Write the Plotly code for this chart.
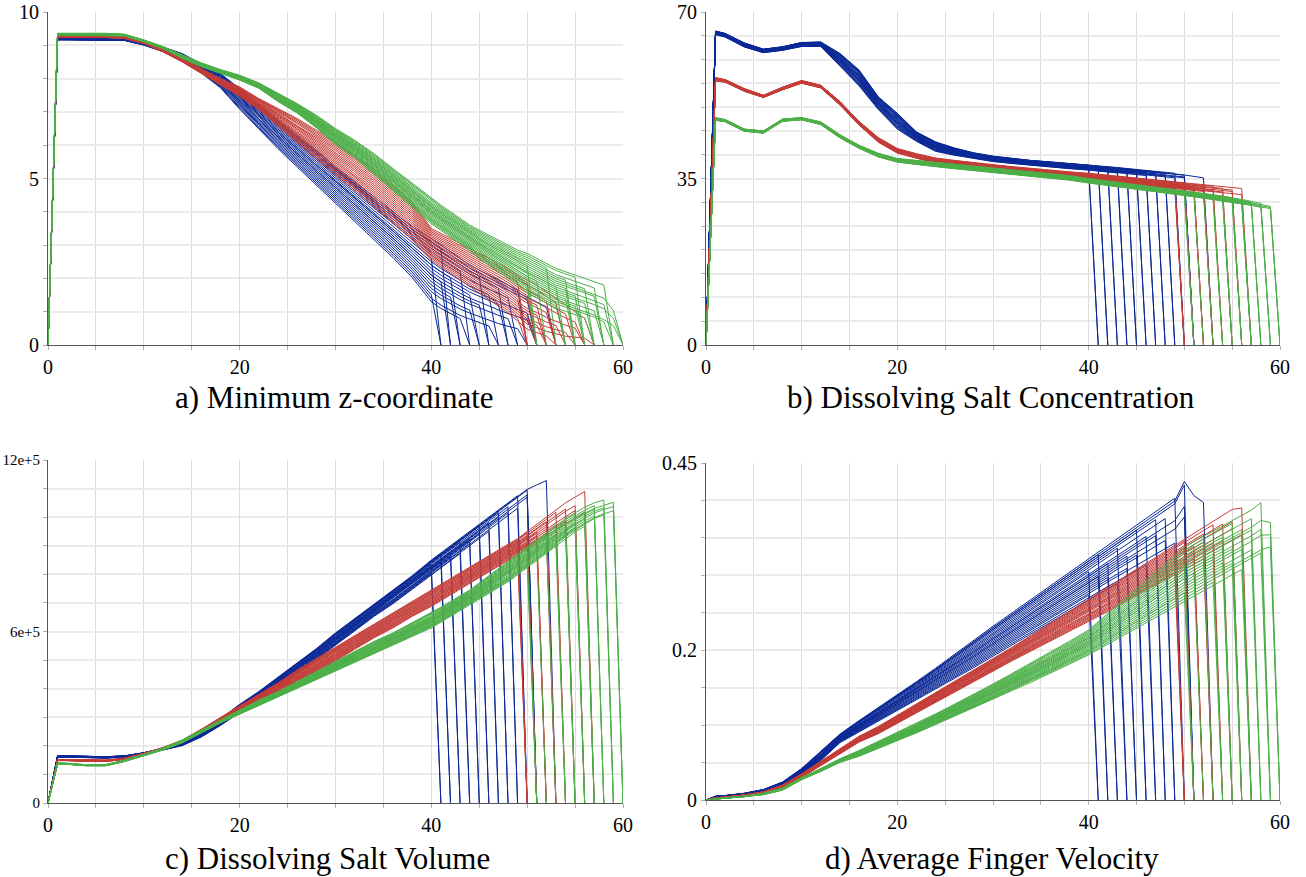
import plotly.graph_objects as go

# shared time grid (simulation time)
T_GRID = [0, 1, 2, 4, 6, 8, 10, 12, 14, 16, 18, 20, 22, 24, 26, 28, 30, 32, 34, 36, 38, 40,
          41, 42, 43, 44, 45, 46, 47, 48, 49, 50, 51, 52, 53, 54, 55, 56, 57, 58, 59]

# run end times (time at which value returns to 0) and position of each run inside its band
ends_blue = [41, 41, 42, 42, 43, 43, 44, 44, 45, 45, 46, 46, 47, 47, 48, 48, 49, 49, 50, 50, 51, 51, 51, 53]
frac_blue = [0.15, 0.70, 0.45, 0.95, 0.30, 0.60, 0.05, 0.80, 0.50, 0.25, 0.90, 0.40, 0.65, 0.10, 0.55, 0.85,
             0.35, 0.75, 1.00, 0.20, 0.60, 0.45, 0.90, 0.95]
ends_red = [50, 50, 50, 51, 51, 51, 52, 52, 52, 53, 53, 53, 54, 54, 55, 55, 56, 56, 57, 57]
frac_red = [0.10, 0.50, 0.85, 0.30, 0.70, 0.95, 0.20, 0.60, 0.40, 0.80, 0.05, 0.55, 0.35, 0.90, 0.25, 0.75,
            0.45, 0.65, 1.00, 0.15]
ends_green = [51, 51, 52, 53, 54, 54, 55, 55, 55, 56, 56, 56, 57, 57, 57, 58, 58, 58, 59, 59, 59, 60, 60, 60]
frac_green = [0.20, 0.70, 0.45, 0.90, 0.10, 0.55, 0.35, 0.80, 0.60, 0.25, 0.95, 0.50, 0.05, 0.75, 0.40, 0.85,
              0.30, 0.65, 1.00, 0.15, 0.55, 0.45, 0.20, 0.70]

# ---- a) Minimum z-coordinate: lower / upper band edges per group
minz_blue_lo = [0, 9.16, 9.16, 9.16, 9.16, 9.14, 9.0, 8.8, 8.5, 8.15, 7.7, 7.05, 6.45, 5.85, 5.3, 4.75, 4.2, 3.65, 3.1, 2.55, 1.95, 1.2,
                1.0, 0.85, 0.7, 0.6, 0.5, 0.4, 0.32, 0.25, 0.2, 0.15, 0.1, 0.1]
minz_blue_hi = [0, 9.21, 9.21, 9.21, 9.21, 9.2, 9.1, 8.95, 8.75, 8.45, 8.15, 7.7, 7.2, 6.75, 6.3, 5.85, 5.35, 4.9, 4.45, 4.0, 3.55, 3.2,
                3.0, 2.8, 2.6, 2.4, 2.25, 2.1, 1.95, 1.8, 1.65, 1.5, 1.35, 1.2]
minz_red_lo = [0, 9.23, 9.23, 9.23, 9.23, 9.2, 9.05, 8.8, 8.5, 8.15, 7.8, 7.45, 7.05, 6.55, 6.05, 5.55, 5.05, 4.6, 4.1, 3.6, 3.1, 2.5,
               2.3, 2.1, 1.9, 1.7, 1.5, 1.3, 1.1, 0.9, 0.65, 0.4, 0.3, 0.2, 0.15, 0.1, 0.1, 0.1]
minz_red_hi = [0, 9.28, 9.28, 9.28, 9.28, 9.25, 9.1, 8.87, 8.6, 8.3, 8.0, 7.75, 7.4, 7.1, 6.8, 6.45, 6.1, 5.7, 5.3, 4.8, 4.3, 3.5,
               3.35, 3.2, 3.05, 2.9, 2.75, 2.6, 2.45, 2.3, 2.1, 1.95, 1.8, 1.6, 1.4, 1.2, 1.0, 0.8]
minz_green_lo = [0, 9.3, 9.3, 9.3, 9.3, 9.28, 9.1, 8.9, 8.6, 8.35, 8.15, 7.95, 7.7, 7.3, 6.95, 6.5, 6.0, 5.6, 5.1, 4.6, 4.1, 3.6,
                 3.4, 3.2, 3.0, 2.8, 2.55, 2.35, 2.15, 1.95, 1.75, 1.5, 1.35, 1.2, 1.05, 0.95, 0.85, 0.75, 0.65, 0.5, 0.4]
minz_green_hi = [0, 9.36, 9.36, 9.36, 9.36, 9.33, 9.16, 8.96, 8.72, 8.47, 8.27, 8.1, 7.87, 7.55, 7.25, 6.9, 6.5, 6.15, 5.75, 5.3, 4.85, 4.4,
                 4.2, 4.0, 3.8, 3.6, 3.45, 3.3, 3.15, 3.0, 2.85, 2.75, 2.6, 2.45, 2.3, 2.2, 2.1, 2.0, 1.9, 1.8, 1.3]

# ---- b) Dissolving Salt Concentration
conc_blue_lo = [0, 65.2, 64.7, 62.6, 61.4, 61.9, 62.7, 62.7, 58.5, 54.3, 49.4, 45.2, 42.7, 40.6, 39.8, 39.1, 38.5, 38.1, 37.7, 37.3, 37.0, 36.7,
                36.5, 36.3, 36.1, 35.9, 35.7, 35.5, 35.3, 35.1, 34.9, 34.6, 34.3, 34.0]
conc_blue_hi = [0, 66.0, 65.5, 63.5, 62.2, 62.7, 63.6, 63.7, 61.3, 57.8, 52.2, 48.7, 44.8, 42.7, 41.4, 40.4, 39.7, 39.2, 38.8, 38.5, 38.2, 37.9,
                37.7, 37.5, 37.3, 37.1, 36.9, 36.7, 36.5, 36.3, 36.1, 35.8, 35.5, 35.2]
conc_red_lo = [0, 55.5, 55.2, 53.3, 52.0, 53.6, 55.0, 54.0, 50.4, 46.2, 42.6, 40.3, 39.2, 38.2, 37.6, 37.1, 36.6, 36.2, 35.8, 35.4, 35.0, 34.6,
               34.4, 34.2, 34.0, 33.8, 33.6, 33.4, 33.2, 33.0, 32.8, 32.6, 32.4, 32.2, 32.0, 31.8, 31.6, 31.4]
conc_red_hi = [0, 56.2, 55.8, 53.9, 52.5, 54.2, 55.6, 54.6, 51.2, 47.0, 43.6, 41.3, 40.2, 39.3, 38.8, 38.3, 37.9, 37.5, 37.1, 36.7, 36.4, 36.1,
               35.9, 35.7, 35.5, 35.3, 35.1, 34.9, 34.7, 34.5, 34.3, 34.1, 33.9, 33.7, 33.5, 33.3, 33.1, 32.9]
conc_green_lo = [0, 47.2, 46.9, 44.9, 44.5, 47.0, 47.3, 46.3, 43.5, 41.3, 39.5, 38.4, 37.9, 37.4, 37.0, 36.6, 36.2, 35.8, 35.4, 35.0, 34.6, 34.0,
                 33.75, 33.5, 33.25, 33.0, 32.75, 32.5, 32.25, 32.0, 31.7, 31.4, 31.1, 30.8, 30.5, 30.2, 29.9, 29.6, 29.2, 28.8, 28.5]
conc_green_hi = [0, 47.8, 47.4, 45.4, 45.0, 47.5, 47.8, 46.9, 44.2, 42.0, 40.3, 39.2, 38.8, 38.4, 38.0, 37.6, 37.2, 36.8, 36.4, 36.0, 35.6, 35.0,
                 34.75, 34.5, 34.25, 34.0, 33.75, 33.5, 33.25, 33.0, 32.75, 32.5, 32.2, 31.9, 31.6, 31.3, 31.0, 30.6, 30.2, 29.8, 29.4]

# ---- c) Dissolving Salt Volume (in units of 1e5)
vol_blue_lo = [0, 1.60, 1.60, 1.58, 1.57, 1.60, 1.70, 1.85, 2.0, 2.3, 2.7, 3.15, 3.55, 4.05, 4.5, 5.0, 5.5, 6.0, 6.5, 6.95, 7.45, 7.95,
               8.2, 8.45, 8.7, 8.95, 9.2, 9.45, 9.7, 9.95, 10.2, 10.45, 10.7, 10.9]
vol_blue_hi = [0, 1.65, 1.65, 1.63, 1.62, 1.65, 1.76, 1.92, 2.15, 2.5, 2.95, 3.45, 3.9, 4.4, 4.9, 5.4, 5.95, 6.45, 6.95, 7.45, 7.95, 8.5,
               8.75, 9.0, 9.25, 9.5, 9.75, 10.0, 10.25, 10.5, 10.75, 11.0, 11.15, 11.3]
vol_red_lo = [0, 1.48, 1.48, 1.45, 1.45, 1.52, 1.68, 1.88, 2.1, 2.45, 2.85, 3.2, 3.55, 3.9, 4.25, 4.6, 4.95, 5.35, 5.75, 6.1, 6.5, 6.85,
              7.05, 7.25, 7.45, 7.65, 7.85, 8.05, 8.25, 8.45, 8.65, 8.85, 9.05, 9.25, 9.45, 9.65, 9.85, 10.05]
vol_red_hi = [0, 1.52, 1.52, 1.5, 1.5, 1.57, 1.74, 1.94, 2.2, 2.58, 3.0, 3.4, 3.8, 4.2, 4.65, 5.05, 5.45, 5.85, 6.25, 6.65, 7.05, 7.45,
              7.65, 7.85, 8.05, 8.25, 8.45, 8.65, 8.85, 9.05, 9.25, 9.5, 9.75, 10.0, 10.25, 10.5, 10.7, 10.9]
vol_green_lo = [0, 1.36, 1.35, 1.30, 1.30, 1.45, 1.65, 1.85, 2.1, 2.45, 2.8, 3.1, 3.4, 3.7, 4.0, 4.3, 4.6, 4.9, 5.2, 5.5, 5.8, 6.1,
                6.3, 6.5, 6.7, 6.9, 7.1, 7.3, 7.5, 7.7, 7.95, 8.2, 8.45, 8.7, 8.95, 9.2, 9.45, 9.65, 9.85, 10.0, 10.1]
vol_green_hi = [0, 1.40, 1.39, 1.34, 1.34, 1.50, 1.70, 1.92, 2.2, 2.55, 2.9, 3.25, 3.6, 3.9, 4.25, 4.6, 4.95, 5.3, 5.65, 5.95, 6.3, 6.65,
                6.85, 7.05, 7.25, 7.45, 7.7, 7.95, 8.2, 8.45, 8.7, 8.95, 9.2, 9.45, 9.7, 9.95, 10.15, 10.35, 10.5, 10.6, 10.7]

# ---- d) Average Finger Velocity
vel_blue_lo = [0, 0.003, 0.004, 0.006, 0.010, 0.018, 0.034, 0.052, 0.076, 0.090, 0.104, 0.118, 0.132, 0.146, 0.160, 0.175, 0.190, 0.205, 0.220, 0.235, 0.250, 0.265,
               0.272, 0.279, 0.286, 0.293, 0.300, 0.307, 0.314, 0.321, 0.328, 0.335, 0.340, 0.345]
vel_blue_hi = [0, 0.005, 0.006, 0.009, 0.014, 0.024, 0.042, 0.065, 0.088, 0.106, 0.123, 0.140, 0.158, 0.176, 0.195, 0.213, 0.232, 0.250, 0.268, 0.286, 0.304, 0.322,
               0.331, 0.340, 0.349, 0.358, 0.367, 0.376, 0.385, 0.394, 0.403, 0.430, 0.410, 0.400]
vel_red_lo = [0, 0.002, 0.003, 0.005, 0.009, 0.016, 0.030, 0.046, 0.062, 0.077, 0.088, 0.102, 0.116, 0.130, 0.144, 0.158, 0.172, 0.185, 0.198, 0.211, 0.224, 0.236,
              0.243, 0.250, 0.257, 0.264, 0.271, 0.278, 0.285, 0.292, 0.299, 0.306, 0.313, 0.320, 0.327, 0.334, 0.341, 0.348]
vel_red_hi = [0, 0.003, 0.004, 0.007, 0.011, 0.020, 0.035, 0.052, 0.069, 0.085, 0.098, 0.113, 0.128, 0.143, 0.158, 0.173, 0.188, 0.204, 0.220, 0.236, 0.252, 0.268,
              0.276, 0.284, 0.292, 0.300, 0.308, 0.316, 0.324, 0.332, 0.340, 0.348, 0.356, 0.364, 0.372, 0.380, 0.388, 0.390]
vel_green_lo = [0, 0.001, 0.002, 0.004, 0.007, 0.013, 0.027, 0.038, 0.050, 0.058, 0.068, 0.079, 0.089, 0.100, 0.111, 0.122, 0.133, 0.145, 0.156, 0.168, 0.180, 0.192,
                0.199, 0.206, 0.213, 0.220, 0.227, 0.234, 0.241, 0.248, 0.255, 0.262, 0.269, 0.276, 0.283, 0.290, 0.297, 0.304, 0.311, 0.318, 0.325]
vel_green_hi = [0, 0.002, 0.003, 0.005, 0.009, 0.016, 0.030, 0.042, 0.055, 0.066, 0.078, 0.090, 0.102, 0.115, 0.128, 0.141, 0.155, 0.169, 0.183, 0.197, 0.212, 0.227,
                0.238, 0.249, 0.260, 0.271, 0.282, 0.293, 0.304, 0.315, 0.326, 0.337, 0.345, 0.352, 0.359, 0.366, 0.373, 0.380, 0.387, 0.397, 0.390]

COLORS = {"blue": "#0a2896", "red": "#c43c37", "green": "#4caf48"}
GROUPS = [
    ("blue", ends_blue, frac_blue),
    ("red", ends_red, frac_red),
    ("green", ends_green, frac_green),
]
PANELS = [
    ("x", "y", {"blue": (minz_blue_lo, minz_blue_hi), "red": (minz_red_lo, minz_red_hi), "green": (minz_green_lo, minz_green_hi)}, 1.0),
    ("x2", "y2", {"blue": (conc_blue_lo, conc_blue_hi), "red": (conc_red_lo, conc_red_hi), "green": (conc_green_lo, conc_green_hi)}, 1.0),
    ("x3", "y3", {"blue": (vol_blue_lo, vol_blue_hi), "red": (vol_red_lo, vol_red_hi), "green": (vol_green_lo, vol_green_hi)}, 1e5),
    ("x4", "y4", {"blue": (vel_blue_lo, vel_blue_hi), "red": (vel_red_lo, vel_red_hi), "green": (vel_green_lo, vel_green_hi)}, 1.0),
]

fig = go.Figure()
for xa, ya, bands, scale in PANELS:
    for name, ends, fracs in GROUPS:
        lo, hi = bands[name]
        xs, ys = [], []
        for end, f in zip(ends, fracs):
            for i, t in enumerate(T_GRID[:len(lo)]):
                if t <= end - 1:
                    xs.append(t)
                    ys.append((lo[i] + f * (hi[i] - lo[i])) * scale)
            xs.append(end)
            ys.append(0)
            xs.append(None)
            ys.append(None)
        fig.add_trace(go.Scatter(x=xs, y=ys, mode="lines", xaxis=xa, yaxis=ya,
                                 line=dict(color=COLORS[name], width=1), showlegend=False,
                                 hoverinfo="skip"))

W, H = 1306, 877
FONT = "Liberation Serif, Tinos, Times New Roman, DejaVu Serif, serif"


def px_x(px):
    return px / W


def px_y(py):
    return 1 - py / H


def xaxis(left, right, anchor):
    return dict(domain=[px_x(left), px_x(right)], anchor=anchor, range=[0, 60], automargin=False,
                tickmode="array", tickvals=[0, 20, 40, 60], ticktext=["0", "20", "40", "60"],
                showgrid=True, gridcolor="#dcdcdc", gridwidth=1,
                minor=dict(tickmode="linear", tick0=0, dtick=5, showgrid=True, gridcolor="#dcdcdc",
                           gridwidth=1, ticks="outside", ticklen=4, tickcolor="#b0b0b0"),
                ticks="outside", ticklen=4, tickcolor="#b0b0b0",
                showline=True, linecolor="#555555", linewidth=1, zeroline=False,
                tickfont=dict(family=FONT, size=20, color="black"), fixedrange=True)


def yaxis(top, bottom, anchor, rng, tickvals, ticktext, dtick, size=20):
    return dict(domain=[px_y(bottom), px_y(top)], anchor=anchor, range=rng, automargin=False,
                tickmode="array", tickvals=tickvals, ticktext=ticktext,
                showgrid=True, gridcolor="#ebebeb", gridwidth=2,
                minor=dict(tickmode="linear", tick0=0, dtick=dtick, showgrid=True, gridcolor="#ebebeb",
                           gridwidth=2, ticks="outside", ticklen=4, tickcolor="#b0b0b0"),
                ticks="outside", ticklen=4, tickcolor="#b0b0b0",
                showline=True, linecolor="#555555", linewidth=1, zeroline=False,
                tickfont=dict(family=FONT, size=size, color="black"), fixedrange=True)


fig.update_layout(
    width=W, height=H, autosize=False,
    margin=dict(l=0, r=0, t=0, b=0, autoexpand=False),
    paper_bgcolor="white", plot_bgcolor="white",
    xaxis=xaxis(48, 623, "y"),
    yaxis=yaxis(12, 345, "x", [0, 10], [0, 5, 10], ["0", "5", "10"], 1),
    xaxis2=xaxis(706, 1280, "y2"),
    yaxis2=yaxis(12, 345, "x2", [0, 70], [0, 35, 70], ["0", "35", "70"], 5),
    xaxis3=xaxis(48, 623, "y3"),
    yaxis3=yaxis(460, 803, "x3", [0, 12e5], [0, 6e5, 12e5], ["0", "6e+5", "12e+5"], 1e5, size=15),
    xaxis4=xaxis(706, 1280, "y4"),
    yaxis4=yaxis(463, 800, "x4", [0, 0.45], [0, 0.2, 0.45], ["0", "0.2", "0.45"], 0.05),
)

titles = [
    ("a) Minimum z-coordinate", 334, 397),
    ("b) Dissolving Salt Concentration", 991, 397),
    ("c) Dissolving Salt Volume", 328, 858),
    ("d) Average Finger Velocity", 992, 858),
]
for text, cx, cy in titles:
    fig.add_annotation(text=text, x=px_x(cx), y=px_y(cy), xref="paper", yref="paper",
                       showarrow=False, xanchor="center", yanchor="middle",
                       font=dict(family=FONT, size=31, color="black"))

fig.write_html("out.html", config={"displayModeBar": False},
               post_script="document.body.style.margin='0';document.body.style.overflow='hidden';")
